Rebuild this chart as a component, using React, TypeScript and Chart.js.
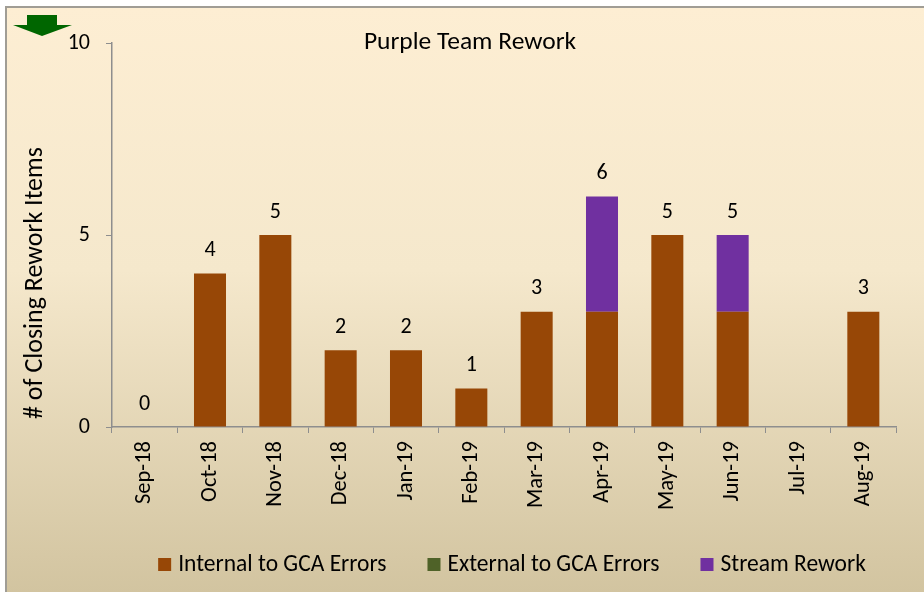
import React, { useEffect, useRef } from "react";
import { Chart, registerables } from "chart.js";

Chart.register(...registerables);

const categories = ["Sep-18", "Oct-18", "Nov-18", "Dec-18", "Jan-19", "Feb-19", "Mar-19", "Apr-19", "May-19", "Jun-19", "Jul-19", "Aug-19"];
const internalErrors = [0, 4, 5, 2, 2, 1, 3, 3, 5, 3, null, 3];
const externalErrors = [0, 0, 0, 0, 0, 0, 0, 0, 0, 0, null, 0];
const streamRework = [0, 0, 0, 0, 0, 0, 0, 3, 0, 2, null, 0];
const seriesNames = ["Internal to GCA Errors", "External to GCA Errors", "Stream Rework"];
const seriesColors = ["#974706", "#4f6228", "#7030a0"];
const yMin = 0;
const yMax = 10;
const yStep = 5;
const chartTitle = "Purple Team Rework";
const yAxisTitle = "# of Closing Rework Items";

const FONT = "Carlito, Calibri, Lato, 'DejaVu Sans', sans-serif";
const AXIS_GRAY = "#8e8e8e";

const decorPlugin = {
  id: "decor",
  beforeDraw(chart: any) {
    const { ctx, width, height } = chart;
    ctx.save();
    ctx.fillStyle = "#ffffff";
    ctx.fillRect(0, 0, width, height);
    const g = ctx.createLinearGradient(0, 7, 0, height);
    g.addColorStop(0, "#fdeed3");
    g.addColorStop(0.45, "#f5e8cc");
    g.addColorStop(1, "#d2c4a0");
    ctx.fillStyle = g;
    ctx.fillRect(6, 7, width, height);
    ctx.strokeStyle = "#a09d95";
    ctx.lineWidth = 2;
    ctx.beginPath();
    ctx.moveTo(6, height + 2);
    ctx.lineTo(6, 7);
    ctx.lineTo(width + 2, 7);
    ctx.stroke();
    // green arrow
    ctx.fillStyle = "#006600";
    ctx.beginPath();
    ctx.moveTo(27, 15);
    ctx.lineTo(57, 15);
    ctx.lineTo(57, 25);
    ctx.lineTo(72, 25);
    ctx.lineTo(42, 36);
    ctx.lineTo(13, 25);
    ctx.lineTo(27, 25);
    ctx.closePath();
    ctx.fill();
    ctx.restore();
  },
  afterDraw(chart: any) {
    const { ctx } = chart;
    const xs = chart.scales.x;
    const ys = chart.scales.y;
    ctx.save();
    ctx.fillStyle = "#000000";
    // title
    ctx.font = `25.5px ${FONT}`;
    ctx.textAlign = "center";
    ctx.textBaseline = "middle";
    ctx.fillText(chartTitle, 470, 43);
    // y title
    ctx.save();
    ctx.translate(35, 283);
    ctx.rotate(-Math.PI / 2);
    ctx.font = `26px ${FONT}`;
    ctx.fillText(yAxisTitle, 0, 0);
    ctx.restore();
    // totals
    ctx.font = `22px ${FONT}`;
    categories.forEach((_, i) => {
      const vals = [internalErrors[i], externalErrors[i], streamRework[i]];
      if (vals.every((v) => v === null)) return;
      const total = vals.reduce((a: number, v) => a + (v ?? 0), 0);
      const x = xs.getPixelForValue(i);
      const y = ys.getPixelForValue(total) - 23;
      ctx.fillText(String(total), x, y);
    });
    // legend
    ctx.font = `23.5px ${FONT}`;
    ctx.textAlign = "left";
    const box = 13;
    const gapText = 7;
    const gapItem = 41;
    const widths = seriesNames.map((n) => ctx.measureText(n).width);
    const total = widths.reduce((a, w) => a + box + gapText + w, 0) + gapItem * (seriesNames.length - 1);
    let x = 512 - total / 2;
    const cy = 565;
    seriesNames.forEach((n, i) => {
      ctx.fillStyle = seriesColors[i];
      ctx.fillRect(x, cy - 7, box, box);
      ctx.fillStyle = "#000000";
      ctx.fillText(n, x + box + gapText, cy);
      x += box + gapText + widths[i] + gapItem;
    });
    ctx.restore();
  },
};

export default function App() {
  const ref = useRef<HTMLCanvasElement>(null);
  useEffect(() => {
    if (!ref.current) return;
    const series = [internalErrors, externalErrors, streamRework];
    const chart = new Chart(ref.current, {
      type: "bar",
      data: {
        labels: categories,
        datasets: series.map((d, i) => ({
          label: seriesNames[i],
          data: d,
          backgroundColor: seriesColors[i],
          borderWidth: 0,
          barPercentage: 0.49,
          categoryPercentage: 1,
        })),
      },
      options: {
        animation: false,
        responsive: false,
        layout: { padding: { left: 0, right: 28, top: 43, bottom: 0 } },
        plugins: {
          legend: { display: false },
          title: { display: false },
          tooltip: { enabled: false },
        },
        scales: {
          x: {
            stacked: true,
            afterFit: (s: any) => {
              s.height = 165;
            },
            grid: {
              display: true,
              drawOnChartArea: false,
              drawTicks: true,
              tickLength: 6,
              color: AXIS_GRAY,
              offset: true,
            },
            border: { display: true, color: AXIS_GRAY, width: 1.5 },
            ticks: {
              maxRotation: 90,
              minRotation: 90,
              padding: 8,
              color: "#000000",
              font: { family: FONT, size: 22.5 },
            },
          },
          y: {
            stacked: true,
            min: yMin,
            max: yMax,
            afterFit: (s: any) => {
              s.width = 112;
            },
            grid: {
              display: true,
              drawOnChartArea: false,
              drawTicks: true,
              tickLength: 6,
              color: AXIS_GRAY,
            },
            border: { display: true, color: AXIS_GRAY, width: 1.5 },
            ticks: {
              stepSize: yStep,
              padding: 16,
              color: "#000000",
              font: { family: FONT, size: 22 },
            },
          },
        },
      },
      plugins: [decorPlugin],
    });
    return () => chart.destroy();
  }, []);
  return (
    <div style={{ position: "absolute", left: 0, top: 0, width: 924, height: 592, overflow: "hidden" }}>
      <canvas ref={ref} width={924} height={592} style={{ display: "block" }} />
    </div>
  );
}
